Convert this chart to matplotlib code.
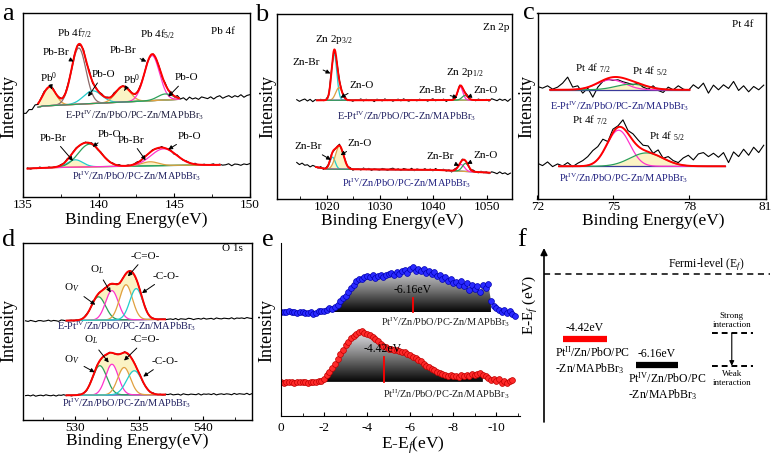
import numpy as np
import matplotlib
matplotlib.use("Agg")
import matplotlib.pyplot as plt
from matplotlib.patches import Polygon
from matplotlib.colors import LinearSegmentedColormap
from matplotlib.ticker import MultipleLocator

plt.rcParams["font.family"] = ["Liberation Serif", "DejaVu Serif"]
plt.rcParams["mathtext.fontset"] = "custom"
plt.rcParams["mathtext.rm"] = "Liberation Serif"
plt.rcParams["mathtext.it"] = "Liberation Serif:italic"
plt.rcParams["mathtext.bf"] = "Liberation Serif:bold"
plt.rcParams["axes.unicode_minus"] = False

W, H = 773, 458

# sample names
name_e = r"E-Pt$^{\mathrm{IV}}$/Zn/PbO/PC-Zn/MAPbBr$_3$"
name_iv = r"Pt$^{\mathrm{IV}}$/Zn/PbO/PC-Zn/MAPbBr$_3$"
name_ii = r"Pt$^{\mathrm{II}}$/Zn/PbO/PC-Zn/MAPbBr$_3$"

PINK, CYAN, GREEN, ORANGE, BROWN, NAVY = "#ff33cc", "#22cccc", "#2ca05a", "#e0a040", "#8c6a6a", "#3a3a9a"

# ---------------- a : Pb 4f ----------------
a_up_bg_x = [135.0, 135.8, 136.3, 145.3, 150.0]
a_up_bg_y = [250, 266, 272, 292, 302]
a_up_pos = [136.75, 138.68, 139.6, 141.6, 143.52, 144.4]
a_up_hgt = [56, 168, 38, 47, 135, 18]
a_up_wid = [0.42, 0.48, 0.6, 0.48, 0.5, 0.5]
a_up_noise = [0, -4, 3, -2, 5, -3, 2, 4, -2, 6, 3, -1, 2, -2, 1, 3, -1, 2, 1, -2,
              5, -3, 6, -4, 2, 0, 3, -1, 2, -3, 4, 1, -2, 2, -1, 3, 0, -2, 1, 2,
              -1, 3, -2, 1, 0, 2, -3, 4, -2, 5, -3, 6, -2, 3, -4, 5, -1, 2, -3, 4,
              1, -2, 3, -4, 2, 5, -3, 1, 4, -2, 3, -1, 5, -3, 2, 4]
a_lo_bg_x = [135.3, 137.0, 145.5, 150.0]
a_lo_bg_y = [85, 88, 95, 97]
a_lo_pos = [138.45, 139.4, 143.4, 144.3]
a_lo_hgt = [22, 68, 12, 50]
a_lo_wid = [0.5, 0.75, 0.55, 0.85]
a_lo_noise = [2, -2, 1, -1, 3, 0, -2, 2, -1, 1, 0, 2, -1, 3, -2, 1, 2, -1, 0, 2,
              -2, 3, 1, -2, 2, 0, 1, -1, 2, -2, 3, -1, 0, 2, -2, 1, 3, -2, 0, 1,
              -1, 2, 0, -2, 3, -1, 1, 2, -3, 2, 0, -1, 2, 1, -2, 3, -2, 0, 2, -1,
              1, 3, -2, 2, -1, 0, 3, -3, 2, 1, -2, 2, 0, 3]

# ---------------- b : Zn 2p ----------------
b_up_bg_x = [1014.4, 1054.4]
b_up_bg_y = [297, 298]
b_up_pos = [1021.4, 1022.3, 1045.0, 1045.9]
b_up_hgt = [140, 38, 40, 14]
b_up_wid = [0.5, 0.6, 0.5, 0.55]
b_up_noise = [2, -3, 1, 4, -2, 3, -4, 2, 0, 3, -1, 2, -3, 4, -2, 1, 3, -1, 5, -2,
              1, -3, 2, 0, 4, -2, 3, -1, 2, -4, 3, 1, -2, 4, -1, 2, -3, 1, 3, -2,
              4, 0, -3, 2, 1, -2, 3, -1, 2, -3, 1, 4, -2, 2, -1, 3, -4, 2, 0, 1,
              -2, 3, -1, 2, 4, -3, 1, -2, 3, 0, -1, 2, -3, 4, 1, -2, 3, -1, 2, -4, 3]
b_lo_bg_x = [1014.4, 1017.8, 1020.0, 1040.0, 1054.4]
b_lo_bg_y = [107, 97, 90, 88, 76]
b_lo_pos = [1021.1, 1022.4, 1045.2, 1046.0]
b_lo_hgt = [36, 70, 20, 24]
b_lo_wid = [0.5, 0.75, 0.6, 0.6]
b_lo_noise = [3, -2, 4, -1, 2, -3, 3, 1, -2, 4, -3, 2, 0, 3, -2, 1, 4, -2, 2, -1,
              3, -3, 1, 2, -2, 4, -1, 3, -3, 2, 0, -2, 3, 1, -3, 2, 4, -1, 2, -3,
              3, 1, -2, 4, -3, 2, 0, -1, 3, -2, 2, -3, 4, -1, 1, 3, -2, 2, -4, 3,
              1, -2, 3, -1, 2, -3, 4, 0, -2, 3, -1, 2, -3, 3, 1, -2, 4, -1, 2, -3, 2]

# ---------------- c : Pt 4f (raw counts) ----------------
c_up_raw = [337, 332, 339, 329, 335, 347, 365, 335, 339, 317, 332, 305, 335, 352, 359, 355,
            357, 351, 347, 342, 347, 335, 329, 339, 325, 319, 335, 327, 339, 329, 325, 342,
            331, 347, 317, 341, 327, 342, 331, 352, 325, 339, 321, 337, 327, 341]
c_lo_raw = [107, 100, 111, 97, 105, 99, 109, 97, 107, 115, 127, 145, 157, 179, 172, 209,
            219, 237, 205, 195, 177, 161, 159, 137, 147, 122, 127, 115, 109, 123, 131, 117,
            135, 139, 127, 137, 125, 139, 109, 141, 127, 149, 131, 155, 139, 161]
c_up_bg = 327
c_up_pos = [74.9, 75.7]
c_up_hgt = [30, 17]
c_up_wid = [0.55, 0.6]
c_lo_bg = 98
c_lo_pos = [75.2, 76.3]
c_lo_hgt = [108, 40]
c_lo_wid = [0.45, 0.65]

# ---------------- d : O 1s ----------------
d_up_bg_x = [526.1, 543.8]
d_up_bg_y = [296, 305]
d_up_pos = [531.8, 532.85, 533.95, 534.75]
d_up_hgt = [70, 88, 105, 93]
d_up_wid = [0.55, 0.5, 0.5, 0.5]
d_up_noise = [1, -1, 2, 0, -2, 1, 1, -1, 0, 2, -1, 1, 0, -2, 2, 1, -1, 0, 1, -2,
              2, 0, -1, 1, 2, -1, 0, 1, -2, 1, 0, 2, -1, 1, -1, 0, 2, -2, 1, 0,
              -1, 1, 2, -1, 0, 1, -2, 2, 0, -1, 1, 0, -2, 1, 2, -1, 0, 1, -1, 2,
              -2, 1, 0, -1, 2, 1, -2, 0, 1, -1, 2, -1, 0, 1, -2, 2, 0, -1, 1, 0,
              -1, 2, -2, 1, 0, 1, -1, 2, 0, -1]
d_lo_bg_x = [526.1, 543.8]
d_lo_bg_y = [73, 78]
d_lo_pos = [531.9, 532.85, 533.8, 534.6]
d_lo_hgt = [88, 92, 82, 72]
d_lo_wid = [0.55, 0.5, 0.5, 0.6]
d_lo_noise = [0, 1, -1, 2, -2, 0, 1, -1, 2, 0, -1, 1, -2, 1, 0, 2, -1, 1, -2, 0,
              1, 2, -1, 0, -2, 1, 1, -1, 2, -1, 0, 1, -2, 2, 0, -1, 1, 0, -1, 2,
              -2, 0, 1, 1, -1, 2, -2, 0, 1, -1, 2, 0, -1, 1, -2, 1, 0, 2, -1, 0,
              1, -2, 2, 0, -1, 1, 0, -1, 2, -2, 1, 0, 1, -1, 2, -2, 0, 1, -1, 1,
              0, -2, 2, -1, 1, 0, -1, 2, -2, 1]

# ---------------- e : valence band ----------------
e_iv = [311, 312, 310, 313, 311, 312, 309, 311, 310, 308, 309, 311, 306,
        309, 313, 315, 313, 318, 322, 320, 326, 332, 345, 352, 360,
        372, 383, 392, 402, 408, 410, 415, 418, 415, 420, 412, 418,
        422, 416, 420, 425, 427, 420, 430, 424, 432, 436, 428, 438,
        446, 434, 440, 432, 438, 428, 434, 425, 430, 418, 422, 410,
        414, 402, 408, 396, 400, 392, 404, 388, 398, 378, 392, 380,
        388, 372, 392, 384, 395, 345, 330, 322, 316, 312, 318, 308, 314, 305, 300]
e_ii = [102, 100, 103, 101, 102, 100, 101, 103, 101, 102, 100, 102, 101,
        102, 104, 106, 112, 122, 132, 142, 155, 170, 185, 198, 212,
        222, 232, 240, 246, 250, 254, 248, 244, 242, 236, 230, 224,
        216, 210, 205, 201, 200, 198, 196, 194, 192, 190, 186, 182,
        176, 172, 168, 163, 156, 150, 146, 140, 136, 132, 128, 126,
        124, 120, 123, 119, 121, 118, 122, 120, 123, 121, 125, 124,
        126, 128, 124, 120, 114, 108, 112, 104, 110, 100, 106, 98, 104, 108]
e_iv_base, e_ii_base = 310, 102
e_iv_fill = (-2.2, -9.8)
e_ii_fill = (-2.0, -9.45)
vbm_values = [-6.16, -4.42]
vbm_marks = [-6.14, -4.77]
vbm_tops = [354, 177]

# ---------------- f : level diagram ----------------
level_values = [-4.42, -6.16]
level_colors = ["red", "black"]
level_names = [r"Pt$^{\mathrm{II}}$/Zn/PbO/PC" + "\n-Zn/MAPbBr$_3$",
               r"Pt$^{\mathrm{IV}}$/Zn/PbO/PC" + "\n-Zn/MAPbBr$_3$"]
interaction_levels = [-4.0, -6.2]


def gauss(x, c, h, s):
    return h * np.exp(-0.5 * ((x - c) / s) ** 2)


def model(x, bg_x, bg_y, pos, hgt, wid):
    return np.interp(x, bg_x, bg_y) + np.sum([gauss(x, c, h, s) for c, h, s in zip(pos, hgt, wid)], axis=0)


def draw_fit(ax, raw_x, raw_y, bg_x, bg_y, fit, pos, hgt, wid, colors, fills=None,
             env_fill=False, bg_color=NAVY):
    xf = np.linspace(fit[0], fit[1], 500)
    bf = np.interp(xf, bg_x, bg_y)
    comps = [gauss(xf, c, h, s) for c, h, s in zip(pos, hgt, wid)]
    env = bf + np.sum(comps, axis=0)
    if env_fill:
        ax.fill_between(xf, bf + np.max(comps, axis=0), env, color="#fbf3c4", lw=0)
    if fills:
        for comp, fl in zip(comps, fills):
            if fl:
                ax.fill_between(xf, bf, bf + comp, color="#fbf3c4", lw=0)
    ax.plot(raw_x, raw_y, color="k", lw=0.8)
    ax.plot(xf, bf, color=bg_color, lw=0.9)
    for comp, col in zip(comps, colors):
        ax.plot(xf, bf + comp, color=col, lw=0.9)
    ax.plot(xf, env, color="red", lw=1.4)


def notes(ax, items, fs=8):
    for t, tx, ty, hx, hy in items:
        if hx is None:
            ax.text(tx, ty, t, ha="center", va="center", fontsize=fs)
        else:
            ax.annotate(t, xy=(hx, hy), xytext=(tx, ty), ha="center", va="center", fontsize=fs,
                        arrowprops=dict(arrowstyle="-|>", color="k", lw=0.7, mutation_scale=6,
                                        shrinkA=1, shrinkB=0))


fig = plt.figure(figsize=(W / 100, H / 100), dpi=100)


def box(l, t, r, b):
    return fig.add_axes([l / W, 1 - b / H, (r - l) / W, (b - t) / H])


def ftext(x, y, s, **kw):
    fig.text(x / W, 1 - y / H, s, ha="center", va="center", **kw)


def style(ax, xlim, ylim, ticks, minor=None, pad=1.5):
    ax.set_xlim(*xlim)
    ax.set_ylim(*ylim)
    ax.set_yticks([])
    ax.set_xticks(ticks)
    if minor:
        ax.xaxis.set_minor_locator(MultipleLocator(minor))
    ax.tick_params(axis="x", which="major", direction="in", length=3, width=0.8, labelsize=9.5, pad=pad)
    ax.tick_params(axis="x", which="minor", direction="in", length=2, width=0.6)
    for sp in ax.spines.values():
        sp.set_linewidth(1.0)


# ---- a ----
ax = box(23, 13, 250, 197)
xa = np.linspace(135.0, 150.0, len(a_up_noise))
draw_fit(ax, xa, model(xa, a_up_bg_x, a_up_bg_y, a_up_pos, a_up_hgt, a_up_wid) + np.array(a_up_noise),
         a_up_bg_x, a_up_bg_y, (136.0, 145.3), a_up_pos, a_up_hgt, a_up_wid,
         [ORANGE, BROWN, CYAN, ORANGE, PINK, GREEN], fills=[True, False, False, True, False, False],
         bg_color=ORANGE)
xa = np.linspace(135.3, 150.0, len(a_lo_noise))
draw_fit(ax, xa, model(xa, a_lo_bg_x, a_lo_bg_y, a_lo_pos, a_lo_hgt, a_lo_wid) + np.array(a_lo_noise),
         a_lo_bg_x, a_lo_bg_y, (135.3, 148.0), a_lo_pos, a_lo_hgt, a_lo_wid,
         [CYAN, GREEN, ORANGE, PINK], fills=[True, False, True, False], bg_color=ORANGE)
notes(ax, [("Pb 4f$_{7/2}$", 138.4, 490, None, None), ("Pb 4f$_{5/2}$", 143.9, 485, None, None),
           ("Pb 4f", 148.2, 495, None, None),
           ("Pb-Br", 137.2, 432, 138.35, 405), ("Pb$^0$", 136.7, 356, 136.9, 322),
           ("Pb-O", 140.3, 366, 139.3, 300), ("Pb$^0$", 142.15, 352, 141.7, 318),
           ("Pb-Br", 141.6, 437, 143.15, 405), ("Pb-O", 145.8, 356, 144.6, 300),
           ("Pb-Br", 137.0, 176, 138.3, 108), ("Pb-O", 140.7, 186, 139.6, 150),
           ("Pb-Br", 142.15, 170, 143.1, 110), ("Pb-O", 146.0, 181, 144.6, 142)])
ax.text(142.4, 245, name_e, ha="center", va="center", fontsize=7.5, color="#202040")
ax.text(142.5, 64, name_iv, ha="center", va="center", fontsize=7.5, color="#202060")
style(ax, (135, 150), (0, 550), [135, 140, 145, 150], 2.5)

# ---- b ----
ax = box(277, 14, 512, 199)
xb = np.linspace(1014.4, 1054.4, len(b_up_noise))
draw_fit(ax, xb, model(xb, b_up_bg_x, b_up_bg_y, b_up_pos, b_up_hgt, b_up_wid) + np.array(b_up_noise),
         b_up_bg_x, b_up_bg_y, (1018.2, 1050.5), b_up_pos, b_up_hgt, b_up_wid,
         [CYAN, ORANGE, PINK, GREEN], bg_color=CYAN)
draw_fit(ax, xb, model(xb, b_lo_bg_x, b_lo_bg_y, b_lo_pos, b_lo_hgt, b_lo_wid) + np.array(b_lo_noise),
         b_lo_bg_x, b_lo_bg_y, (1018.0, 1050.5), b_lo_pos, b_lo_hgt, b_lo_wid,
         [CYAN, ORANGE, PINK, GREEN], fills=[False, True, False, False], bg_color=PINK)
notes(ax, [("Zn 2p$_{3/2}$", 1021.3, 479, None, None), ("Zn 2p$_{1/2}$", 1045.9, 382, None, None),
           ("Zn-Br", 1016.2, 412, 1020.7, 378), ("Zn-O", 1026.6, 342, 1022.6, 305),
           ("Zn-Br", 1039.8, 327, 1044.5, 305), ("Zn-O", 1049.7, 327, 1046.3, 306),
           ("Zn-Br", 1016.6, 157, 1020.8, 118), ("Zn-O", 1026.2, 167, 1022.6, 132),
           ("Zn-Br", 1041.3, 127, 1044.8, 100), ("Zn-O", 1049.7, 132, 1046.3, 106)])
ax.text(1054.2, 517, "Zn 2p", ha="right", va="center", fontsize=8)
ax.text(1035, 249, name_e, ha="center", va="center", fontsize=7.5, color="#202060")
ax.text(1035, 49, name_iv, ha="center", va="center", fontsize=7.5, color="#202080")
style(ax, (1010.7, 1054.7), (0, 557), [1020, 1030, 1040, 1050], 5)

# ---- c ----
ax = box(537.5, 13, 765.5, 199)
xc = np.linspace(72.0, 80.93, len(c_up_raw))
draw_fit(ax, xc, c_up_raw, [72, 81], [c_up_bg, c_up_bg], (72.5, 78.0), c_up_pos, c_up_hgt, c_up_wid,
         [PINK, GREEN], fills=[False, True])
draw_fit(ax, xc, c_lo_raw, [72, 81], [c_lo_bg, c_lo_bg], (72.85, 79.4), c_lo_pos, c_lo_hgt, c_lo_wid,
         [PINK, GREEN], fills=[False, True])
notes(ax, [("Pt 4f $_{7/2}$", 74.2, 392, None, None), ("Pt 4f $_{5/2}$", 76.45, 384, None, None),
           ("Pt 4f $_{7/2}$", 74.05, 235, None, None), ("Pt 4f $_{5/2}$", 77.1, 187, None, None)])
ax.text(80.1, 522, "Pt 4f", ha="center", va="center", fontsize=8)
ax.text(75.25, 277, name_e, ha="center", va="center", fontsize=7.5, color="#202080")
ax.text(75.4, 62, name_iv, ha="center", va="center", fontsize=7.5, color="#202080")
style(ax, (72, 81), (0, 557), [72, 75, 78, 81])

# ---- d ----
ax = box(23, 243, 252, 420)
xd = np.linspace(526.1, 543.8, len(d_up_noise))
draw_fit(ax, xd, model(xd, d_up_bg_x, d_up_bg_y, d_up_pos, d_up_hgt, d_up_wid) + np.array(d_up_noise),
         d_up_bg_x, d_up_bg_y, (529.3, 537.0), d_up_pos, d_up_hgt, d_up_wid,
         [GREEN, PINK, ORANGE, CYAN], env_fill=True)
draw_fit(ax, xd, model(xd, d_lo_bg_x, d_lo_bg_y, d_lo_pos, d_lo_hgt, d_lo_wid) + np.array(d_lo_noise),
         d_lo_bg_x, d_lo_bg_y, (529.3, 537.0), d_lo_pos, d_lo_hgt, d_lo_wid,
         [GREEN, PINK, ORANGE, CYAN], env_fill=True)
notes(ax, [("O$_V$", 529.75, 395, 531.55, 345), ("O$_L$", 531.7, 450, 532.75, 382),
           ("-C=O-", 535.45, 490, 534.1, 430), ("-C-O-", 537.1, 430, 535.2, 380),
           ("O$_V$", 529.75, 180, 531.5, 143), ("O$_L$", 531.2, 240, 532.6, 172),
           ("-C=O-", 535.45, 240, 533.8, 178), ("-C-O-", 537.0, 175, 535.3, 130)])
ax.text(542.3, 513, "O 1s", ha="center", va="center", fontsize=8)
ax.text(534.0, 280, name_e, ha="center", va="center", fontsize=7.5, color="#202060")
ax.text(534.0, 50, name_iv, ha="center", va="center", fontsize=7.5, color="#202060")
style(ax, (525.9, 543.8), (0, 530), [530, 535, 540], 2.5)

# ---- e ----
ax = box(281, 243, 520, 416)
gray = LinearSegmentedColormap.from_list("vb", ["#050505", "#7a7a7a", "#e4e4ea"])
x_iv = np.linspace(0, -10.875, len(e_iv))
x_ii = np.linspace(0, -10.75, len(e_ii))
for xs, ys, base, rng, fc, ec in [(x_iv, np.array(e_iv), e_iv_base, e_iv_fill, "#2a2aff", "#0000b0"),
                                  (x_ii, np.array(e_ii), e_ii_base, e_ii_fill, "#ff2a2a", "#c00000")]:
    m = (xs <= rng[0]) & (xs >= rng[1])
    verts = [(xs[m][0], base)] + list(zip(xs[m], ys[m])) + [(xs[m][-1], base)]
    poly = Polygon(verts, closed=True, facecolor="none", edgecolor="none")
    ax.add_patch(poly)
    im = ax.imshow(np.linspace(0, 1, 256).reshape(-1, 1), cmap=gray, aspect="auto", origin="lower",
                   extent=(xs[m][0], xs[m][-1], base, ys[m].max()))
    im.set_clip_path(poly)
    ax.plot(xs, ys, "o", ms=4.2, mfc=fc, mec=ec, mew=0.5, ls="none")
for v, mx, top, base in zip(vbm_values, vbm_marks, vbm_tops, [e_iv_base, e_ii_base]):
    ax.plot([mx, mx], [base, top], color="red", lw=1.3)
    ax.text(mx + 0.05, top + 23, f"{v:.2f}eV", ha="center", va="center", fontsize=8.5)
ax.text(-7.65, 282, name_iv, ha="center", va="center", fontsize=7.5, color="#202020")
ax.text(-7.65, 67, name_ii, ha="center", va="center", fontsize=7.5, color="#202020")
ax.set_xlim(0, -11.1)
ax.set_ylim(0, 517)
ax.set_yticks([])
ax.set_xticks([0, -2, -4, -6, -8, -10])
ax.xaxis.set_minor_locator(MultipleLocator(1))
ax.tick_params(axis="x", which="major", direction="in", length=3, width=0.8, labelsize=9.5, pad=4)
ax.tick_params(axis="x", which="minor", direction="in", length=2, width=0.6)
ax.spines["top"].set_visible(False)
ax.spines["right"].set_visible(False)

# ---- f ----
ax = box(544, 248, 773, 422)
ax.set_xlim(0, 1)
ax.set_ylim(-10.0, 1.76)
ax.axis("off")
ax.annotate("", xy=(0, 1), xytext=(0, 0), xycoords="axes fraction",
            arrowprops=dict(arrowstyle="-|>", color="k", lw=1.2, mutation_scale=10, shrinkA=0, shrinkB=0))
ax.plot([0, 0.985], [0, 0], color="k", lw=1.1, dashes=(4, 3), clip_on=False)
ax.text(0.71, 0.62, "Fermi-level (E$_f$)", ha="center", va="center", fontsize=8.5)
for v, col, nm, x0, x1 in zip(level_values, level_colors, level_names, [0.083, 0.40], [0.275, 0.585]):
    ax.plot([x0, x1], [v, v], color=col, lw=4.5, solid_capstyle="butt")
    ax.text((x0 + x1) / 2, v + 0.75, f"{v:.2f}eV", ha="center", va="center", fontsize=8.5)
    ax.text(x0 - 0.035, v - 0.4, nm, ha="left", va="top", fontsize=8.5, linespacing=1.15)
for y in interaction_levels:
    ax.plot([0.733, 0.913], [y, y], color="k", lw=1.4, dashes=(3, 2))
ax.annotate("", xy=(0.82, interaction_levels[1]), xytext=(0.82, interaction_levels[0]),
            arrowprops=dict(arrowstyle="-|>", color="k", lw=0.8, mutation_scale=7, shrinkA=0, shrinkB=0))
ax.text(0.82, interaction_levels[0] + 0.3, "Strong\ninteraction", ha="center", va="bottom", fontsize=6.5,
        linespacing=1.2)
ax.text(0.82, interaction_levels[1] - 0.3, "Weak\ninteraction", ha="center", va="top", fontsize=6.5,
        linespacing=1.2)

# ---- labels ----
for x, y in [(136, 220), (392, 221), (653, 221), (137, 441)]:
    ftext(x, y, "Binding Energy(eV)", fontsize=12.5)
ftext(413, 445, "E-E$_f$(eV)", fontsize=12.5)
for x, y in [(9, 107), (268, 107), (527, 107), (9, 330), (267, 330)]:
    ftext(x, y, "Intensity", fontsize=13, rotation=90)
ftext(531, 305, "E-E$_f$ (eV)", fontsize=11, rotation=90)
for s, x, y in [("a", 8, 14), ("b", 262, 15), ("c", 529, 13), ("d", 9, 240), ("e", 268, 240), ("f", 522, 240)]:
    ftext(x, y, s, fontsize=19)

fig.savefig("out.png", dpi=100)
